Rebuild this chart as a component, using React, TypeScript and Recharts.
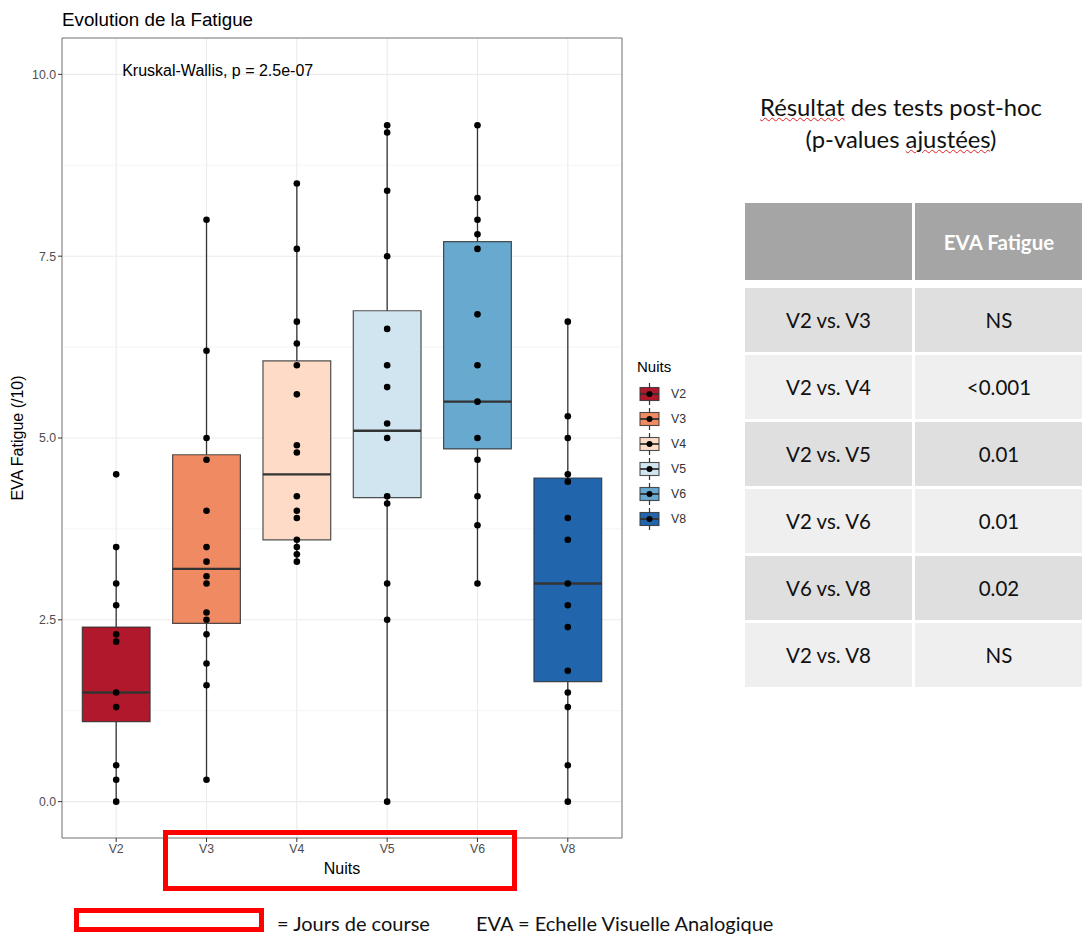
import React from 'react'
import {
  ComposedChart,
  Scatter,
  XAxis,
  YAxis,
  CartesianGrid,
  ReferenceArea,
  ReferenceLine,
  ReferenceDot,
} from 'recharts'

const nuits = ['V2', 'V3', 'V4', 'V5', 'V6', 'V8']
const fills = ['#B2182B', '#EF8A62', '#FDDBC7', '#D1E5F0', '#67A9CF', '#2166AC']

// EVA fatigue scores per night
const evaV2 = [4.5, 3.5, 3.0, 2.7, 2.3, 2.2, 1.5, 1.3, 0.5, 0.3, 0.0]
const evaV3 = [8.0, 6.2, 5.0, 4.7, 4.0, 3.5, 3.3, 3.1, 3.0, 2.6, 2.5, 2.3, 1.9, 1.6, 0.3]
const evaV4 = [8.5, 7.6, 6.6, 6.3, 6.0, 5.6, 4.9, 4.8, 4.2, 4.0, 3.9, 3.6, 3.5, 3.4, 3.3]
const evaV5 = [9.3, 9.2, 8.4, 7.5, 6.5, 6.0, 5.7, 5.2, 5.0, 4.2, 4.1, 3.0, 2.5, 0.0]
const evaV6 = [9.3, 8.3, 8.0, 7.8, 7.6, 6.7, 6.0, 5.5, 5.0, 4.7, 4.2, 3.8, 3.0]
const evaV8 = [6.6, 5.3, 5.0, 4.5, 4.4, 3.9, 3.6, 3.0, 2.7, 2.4, 1.8, 1.5, 1.3, 0.5, 0.0]
const evaByNuit = [evaV2, evaV3, evaV4, evaV5, evaV6, evaV8]

// box statistics
const q1 = [1.1, 2.45, 3.6, 4.18, 4.85, 1.65]
const medians = [1.5, 3.2, 4.5, 5.1, 5.5, 3.0]
const q3 = [2.4, 4.77, 6.06, 6.75, 7.7, 4.45]
const whiskerLo = [0.0, 0.3, 3.3, 0.0, 3.0, 0.0]
const whiskerHi = [3.5, 8.0, 8.5, 9.3, 9.3, 6.6]

const yTicks = [0, 2.5, 5, 7.5, 10]
const yMinor = [1.25, 3.75, 6.25, 8.75]
const xTicks = [1, 2, 3, 4, 5, 6]

const comparisons = ['V2 vs. V3', 'V2 vs. V4', 'V2 vs. V5', 'V2 vs. V6', 'V6 vs. V8', 'V2 vs. V8']
const pValues = ['NS', '<0.001', '0.01', '0.01', '0.02', 'NS']

const points = evaByNuit.flatMap((vals, i) => vals.map(v => ({ x: i + 1, y: v })))
const HALF = 0.375
const ggFont = '"Liberation Sans", Arial, sans-serif'
const officeFont = 'Lato, "Open Sans", sans-serif'

function BlackDot(props: any) {
  return <circle cx={props.cx} cy={props.cy} r={3.3} fill="#000" />
}

export default function App() {
  const boxEls: any[] = []
  nuits.forEach((n, i) => {
    const x = i + 1
    boxEls.push(
      <ReferenceLine
        key={'wl' + n}
        segment={[{ x, y: whiskerLo[i] }, { x, y: q1[i] }]}
        stroke="#333"
        strokeWidth={1.3}
      />,
      <ReferenceLine
        key={'wh' + n}
        segment={[{ x, y: q3[i] }, { x, y: whiskerHi[i] }]}
        stroke="#333"
        strokeWidth={1.3}
      />,
      <ReferenceArea
        key={'bx' + n}
        x1={x - HALF}
        x2={x + HALF}
        y1={q1[i]}
        y2={q3[i]}
        fill={fills[i]}
        fillOpacity={1}
        stroke="#333"
        strokeWidth={1.2}
        strokeOpacity={0.85}
      />,
      <ReferenceLine
        key={'md' + n}
        segment={[{ x: x - HALF, y: medians[i] }, { x: x + HALF, y: medians[i] }]}
        stroke="#333"
        strokeWidth={2.4}
      />
    )
  })

  return (
    <div
      style={{
        position: 'absolute',
        left: 0,
        top: 0,
        width: 1082,
        height: 937,
        background: '#fff',
        overflow: 'hidden',
        fontFamily: ggFont,
      }}
    >
      <div style={{ position: 'absolute', left: 0, top: 0 }}>
        <ComposedChart width={740} height={900} margin={{ top: 38, right: 118, bottom: 0, left: 0 }}>
          <CartesianGrid stroke="#EBEBEB" strokeWidth={1.1} />
          {yMinor.map(v => (
            <ReferenceLine key={'mn' + v} y={v} stroke="#F0F0F0" strokeWidth={0.7} zIndex={-90} />
          ))}
          <XAxis
            type="number"
            dataKey="x"
            domain={[0.4, 6.6]}
            allowDataOverflow
            ticks={xTicks}
            interval={0}
            tickFormatter={(v: number) => nuits[v - 1]}
            axisLine={false}
            tickLine={{ stroke: '#333' }}
            tickSize={4}
            height={62}
            tick={{ fill: '#4D4D4D', fontSize: 12.3, fontFamily: ggFont }}
            label={{ value: 'Nuits', position: 'insideBottom', offset: 26, fill: '#000', fontSize: 16, fontFamily: ggFont }}
          />
          <YAxis
            type="number"
            dataKey="y"
            domain={[-0.5, 10.5]}
            allowDataOverflow
            ticks={yTicks}
            interval={0}
            tickFormatter={(v: number) => v.toFixed(1)}
            axisLine={false}
            tickLine={{ stroke: '#333' }}
            tickSize={4}
            width={62}
            tick={{ fill: '#4D4D4D', fontSize: 12.3, fontFamily: ggFont }}
            label={{
              value: 'EVA Fatigue (/10)',
              angle: -90,
              position: 'insideLeft',
              offset: 17,
              fill: '#000',
              fontSize: 16,
              fontFamily: ggFont,
              style: { textAnchor: 'middle' },
            }}
          />
          {boxEls}
          <Scatter data={points} isAnimationActive={false} shape={BlackDot} />
          <ReferenceArea
            x1={0.4}
            x2={6.6}
            y1={-0.5}
            y2={10.5}
            fill="none"
            stroke="#333"
            strokeWidth={0.9}
            strokeOpacity={0.7}
          />
          <ReferenceDot
            x={1}
            y={10}
            r={0}
            fill="none"
            stroke="none"
            label={{
              value: 'Kruskal-Wallis, p = 2.5e-07',
              position: 'right',
              offset: 6,
              dy: -4,
              fill: '#000',
              fontSize: 16,
              fontFamily: ggFont,
            }}
          />
        </ComposedChart>
      </div>

      <svg
        width={1082}
        height={937}
        style={{ position: 'absolute', left: 0, top: 0, pointerEvents: 'none' }}
      >
        <text x={62} y={26} fontSize={18.8} fontFamily={ggFont} fill="#000">
          Evolution de la Fatigue
        </text>
        <g transform="translate(630,355)">
          <text x={7} y={17} fontSize={15} fontFamily={ggFont} fill="#000">
            Nuits
          </text>
          {nuits.map((n, i) => {
            const cy = 39 + 25 * i
            return (
              <g key={n}>
                <line x1={19.5} x2={19.5} y1={cy - 11} y2={cy + 11} stroke="#333" strokeWidth={1.2} />
                <rect x={10} y={cy - 6.5} width={19} height={13} fill={fills[i]} stroke="#333" strokeWidth={1.1} strokeOpacity={0.85} />
                <line x1={10} x2={29} y1={cy} y2={cy} stroke="#333" strokeWidth={1.8} />
                <circle cx={19.5} cy={cy} r={3} fill="#000" />
                <text x={41} y={cy + 4.3} fontSize={12.3} fontFamily={ggFont} fill="#333">
                  {n}
                </text>
              </g>
            )
          })}
        </g>
        <rect x={165.5} y={832.5} width={349} height={56} fill="none" stroke="#FF0000" strokeWidth={5} />
        <rect x={76.5} y={910.5} width={185} height={19} fill="none" stroke="#FF0000" strokeWidth={5} />
      </svg>

      <div
        style={{
          position: 'absolute',
          left: 741,
          top: 91,
          width: 320,
          textAlign: 'center',
          fontFamily: officeFont,
          fontSize: 23.8,
          lineHeight: '32px',
          color: '#111',
          whiteSpace: 'nowrap',
        }}
      >
        <div>
          <span style={{ textDecoration: 'underline wavy #e02020', textDecorationThickness: 1 }}>Résultat</span> des tests
          post-hoc
        </div>
        <div>
          (p-values <span style={{ textDecoration: 'underline wavy #e02020', textDecorationThickness: 1 }}>ajustées</span>)
        </div>
      </div>

      <div style={{ position: 'absolute', left: 745, top: 203, width: 167, height: 77, background: '#A5A5A5' }} />
      <div
        style={{
          position: 'absolute',
          left: 915,
          top: 203,
          width: 168,
          height: 77,
          background: '#A5A5A5',
          color: '#fff',
          fontWeight: 700,
          fontFamily: officeFont,
          fontSize: 20.5,
          display: 'flex',
          alignItems: 'center',
          justifyContent: 'center',
        }}
      >
        EVA Fatigue
      </div>
      {comparisons.map((c, i) => {
        const top = 288 + 67 * i
        const bg = i % 2 === 0 ? '#DFDFDF' : '#EFEFEF'
        const cell: React.CSSProperties = {
          position: 'absolute',
          top,
          height: 64,
          background: bg,
          fontFamily: officeFont,
          fontSize: 20.5,
          color: '#111',
          display: 'flex',
          alignItems: 'center',
          justifyContent: 'center',
        }
        return (
          <React.Fragment key={c}>
            <div style={{ ...cell, left: 745, width: 167 }}>{c}</div>
            <div style={{ ...cell, left: 915, width: 168 }}>{pValues[i]}</div>
          </React.Fragment>
        )
      })}

      <div
        style={{
          position: 'absolute',
          left: 277,
          top: 910,
          fontFamily: officeFont,
          fontSize: 20,
          lineHeight: '26px',
          color: '#111',
          whiteSpace: 'pre',
        }}
      >
        = Jours de course
      </div>
      <div
        style={{
          position: 'absolute',
          left: 476,
          top: 910,
          fontFamily: officeFont,
          fontSize: 20,
          lineHeight: '26px',
          color: '#111',
          whiteSpace: 'pre',
        }}
      >
        EVA = Echelle Visuelle Analogique
      </div>
    </div>
  )
}
